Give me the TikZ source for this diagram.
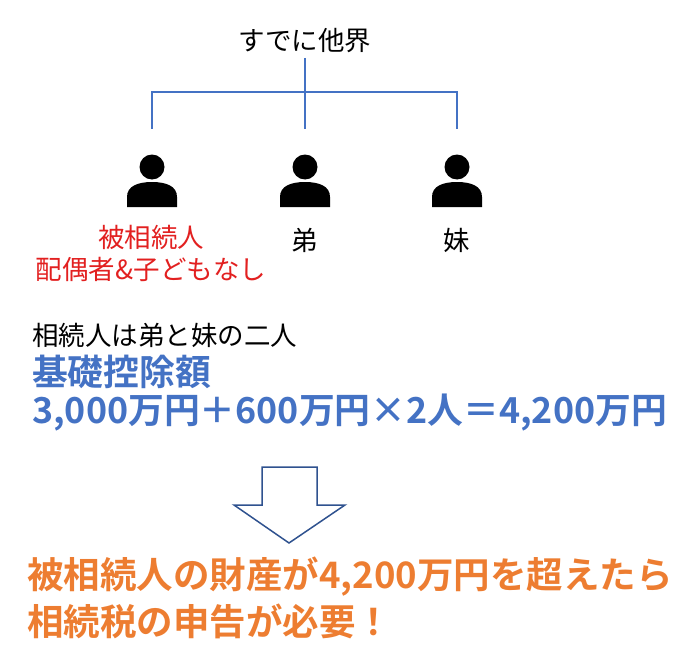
\documentclass[tikz,border=0pt]{standalone}
\usepackage{fontspec}
\newfontfamily\jp{Noto Sans CJK JP}
\newfontfamily\jpbold{Noto Sans CJK JP Bold}
\usepackage{tikz}
\definecolor{linkblue}{RGB}{68,114,196}
\definecolor{arrowblue}{RGB}{47,82,143}
\definecolor{heirred}{RGB}{226,32,32}
\definecolor{noteorange}{RGB}{237,125,49}
\def\personicon(#1){\fill[black] (#1,167) circle (12.5);
	\fill[black] ({#1-25},207) -- ({#1-25},197) .. controls ({#1-25},186) and ({#1-14},182) .. (#1,182) .. controls ({#1+14},182) and ({#1+25},186) .. ({#1+25},197) -- ({#1+25},207) -- cycle;}
\tikzset{
	branch/.style={draw=linkblue, line width=1.8pt},
	plain/.style={font=\jp\fontsize{26.5}{30}\selectfont, inner sep=0pt},
	heir/.style={plain, text=heirred},
	calc/.style={font=\jpbold\fontsize{35.8}{40}\selectfont, text=linkblue, inner sep=0pt, anchor=west},
	note/.style={font=\jpbold\fontsize{36.5}{40}\selectfont, text=noteorange, inner sep=0pt, anchor=west}
}

\begin{document}
\begin{tikzpicture}[x=1pt,y=-1pt]
		%%%%% START %%%%%
		\useasboundingbox (0,0) rectangle (697,661);
		
		\node[plain] (kai) at (305,41) {すでに他界};
		\coordinate (top) at (305,58);
		\coordinate (jl) at (152,92);
		\coordinate (jm) at (305,92);
		\coordinate (jr) at (457,92);
		\coordinate (el) at (152,129);
		\coordinate (em) at (305,129);
		\coordinate (er) at (457,129);
		\draw[branch] (top) -- (em);
		\draw[branch] (el) -- (jl) -- (jr) -- (er);
		
		\personicon(152)
		\personicon(305)
		\personicon(457)
		
		\node[heir] (hi) at (151,237) {被相続人};
		\node[heir] (hiz) at (151,269) {配偶者\&子どもなし};
		\node[plain] (otouto) at (305,240) {弟};
		\node[plain] (imouto) at (457,240) {妹};
		
		\node[plain, anchor=west] (sozoku) at (32,335) {相続人は弟と妹の二人};
		\node[calc] (kiso) at (32,372) {基礎控除額};
		\node[calc] (shiki) at (32,413) {3,000万円＋600万円×2人＝4,200万円};
		
		\draw[arrowblue, line width=1.5pt, line join=miter] (262,467) -- (317,467) -- (317,505) -- (345,505) -- (289,543) -- (234,505) -- (262,505) -- cycle;
		
		\node[note] (zaisan) at (27,577) {被相続人の財産が4,200万円を超えたら};
		\node[note] (shinkoku) at (27,621) {相続税の申告が必要！};
		%%%%% END %%%%%
	\end{tikzpicture}
\end{document}
